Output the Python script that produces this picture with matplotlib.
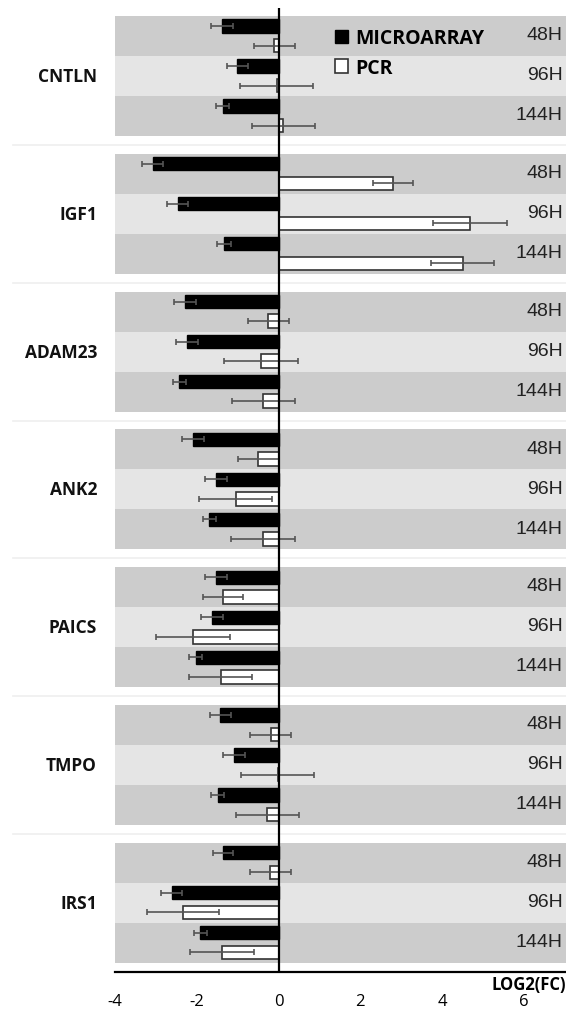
import numpy as np
import matplotlib
matplotlib.use("Agg")
import matplotlib.pyplot as plt
from matplotlib.patches import Patch

# valores (log2 fold change)
genes = ["CNTLN", "IGF1", "ADAM23", "ANK2", "PAICS", "TMPO", "IRS1"]
tempos = ["48H", "96H", "144H"]

microarray = [
    [-1.38, -1.01, -1.36],
    [-3.08, -2.47, -1.34],
    [-2.28, -2.24, -2.43],
    [-2.09, -1.53, -1.69],
    [-1.53, -1.63, -2.03],
    [-1.42, -1.09, -1.49],
    [-1.36, -2.61, -1.91],
]
microarray_err = [
    [0.26, 0.26, 0.16],
    [0.26, 0.26, 0.17],
    [0.27, 0.27, 0.16],
    [0.26, 0.26, 0.16],
    [0.26, 0.26, 0.16],
    [0.25, 0.26, 0.15],
    [0.25, 0.26, 0.16],
]
pcr = [
    [-0.10, -0.05, 0.12],
    [2.80, 4.68, 4.50],
    [-0.25, -0.43, -0.38],
    [-0.50, -1.05, -0.38],
    [-1.36, -2.09, -1.41],
    [-0.19, -0.02, -0.28],
    [-0.20, -2.34, -1.38],
]
pcr_err = [
    [0.50, 0.89, 0.78],
    [0.50, 0.91, 0.77],
    [0.50, 0.90, 0.77],
    [0.50, 0.90, 0.78],
    [0.49, 0.90, 0.77],
    [0.50, 0.89, 0.77],
    [0.50, 0.88, 0.78],
]

xticks = [-4, -2, 0, 2, 4, 6]

# layout: cada linha = 1 unidade, grupos separados por um espaco
periodo = 3.445
topo = 0.2
cor_banda = ["#cccccc", "#e5e5e5", "#cccccc"]

fig = plt.figure(figsize=(5.66, 10.12), dpi=100)
ax = fig.add_axes([115 / 566, 1 - 973 / 1012, 451 / 566, 964 / 1012])
ax.set_xlim(-3.97, 7.03)
ax.set_ylim(24.1, 0)

ma = np.array(microarray)
ma_e = np.array(microarray_err)
pc = np.array(pcr)
pc_e = np.array(pcr_err)

for g, gene in enumerate(genes):
    g_top = topo + g * periodo
    for r, t in enumerate(tempos):
        y0 = g_top + r
        ax.axhspan(y0, y0 + 1, color=cor_banda[r], lw=0, zorder=0)
        ax.text(0.992, y0 + 0.47, t, transform=ax.get_yaxis_transform(),
                ha="right", va="center", fontsize=14, family="Liberation Sans",
                color="#222222")
    y_ma = g_top + np.arange(3) + 0.25
    y_pc = g_top + np.arange(3) + 0.74
    ax.barh(y_ma, ma[g], height=0.33, color="black", edgecolor="black", zorder=2)
    ax.barh(y_pc, pc[g], height=0.34, color="white", edgecolor="#333333",
            linewidth=1.2, zorder=2)
    ax.errorbar(ma[g], y_ma, xerr=ma_e[g], fmt="none", ecolor="#555555",
                elinewidth=1.2, capsize=2.5, capthick=1.2, zorder=3)
    ax.errorbar(pc[g], y_pc, xerr=pc_e[g], fmt="none", ecolor="#555555",
                elinewidth=1.2, capsize=2.5, capthick=1.2, zorder=3)
    ax.text(-0.04, g_top + 1.5, gene, transform=ax.get_yaxis_transform(),
            ha="right", va="center", fontsize=12.5, fontweight="bold",
            family="Open Sans", color="#111111")
    if g < len(genes) - 1:
        y_sep = g_top + 3 + (periodo - 3) / 2
        ax.plot([-0.226, 1.0], [y_sep, y_sep], transform=ax.get_yaxis_transform(),
                color="#efefef", lw=1.2, clip_on=False, zorder=0)

ax.axvline(0, color="black", lw=1.6, zorder=4)

for s in ["top", "right", "left"]:
    ax.spines[s].set_visible(False)
ax.spines["bottom"].set_color("black")
ax.spines["bottom"].set_linewidth(1.6)
ax.set_yticks([])
ax.set_xticks(xticks)
ax.set_xticklabels([str(v) for v in xticks], family="Open Sans", fontsize=12)
ax.tick_params(axis="x", length=0, pad=15)

ax.text(1.0, -0.003, "LOG2(FC)", transform=ax.transAxes, ha="right", va="top",
        fontsize=12, fontweight="bold", family="Open Sans")

handles = [Patch(facecolor="black", edgecolor="black"),
           Patch(facecolor="white", edgecolor="#333333", linewidth=1.2)]
leg = ax.legend(handles, ["MICROARRAY", "PCR"], loc="upper left",
                bbox_to_anchor=(0.47, 0.987), frameon=False,
                handlelength=0.7, handleheight=0.7, handletextpad=0.35,
                labelspacing=0.5, borderaxespad=0,
                prop={"family": "Open Sans", "weight": "bold", "size": 14})

fig.savefig("out.png", dpi=100)
